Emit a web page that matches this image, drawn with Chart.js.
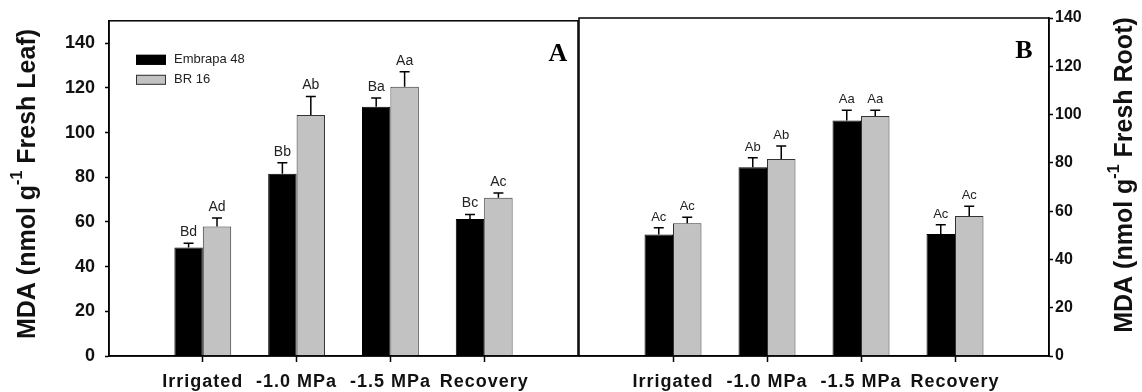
<!DOCTYPE html>
<html>
<head>
<meta charset="utf-8">
<script src="https://cdn.jsdelivr.net/npm/chart.js@4.4.1/dist/chart.umd.min.js"></script>
<style>
  body{margin:0;background:#fff;}
  #wrap{position:relative;width:1142px;height:392px;background:#fff;}
  .panel{position:absolute;top:0;height:392px;}
  #pa{left:0;width:580px;}
  #pb{left:576px;width:566px;}
</style>
</head>
<body>
<div id="wrap">
  <div class="panel" id="pa"><canvas id="chart_leaf"></canvas></div>
  <div class="panel" id="pb"><canvas id="chart_root"></canvas></div>
</div>
<script>
const categories = ['Irrigated', '-1.0 MPa', '-1.5 MPa', 'Recovery'];
const yTicks = [0, 20, 40, 60, 80, 100, 120, 140];

// A - leaf
const leafEmbrapa = [48.5, 81.5, 111.5, 61.3];
const leafEmbrapaErr = [2, 5, 4, 2];
const leafEmbrapaSig = ['Bd', 'Bb', 'Ba', 'Bc'];
const leafBR = [58, 107.8, 120.5, 70.8];
const leafBRErr = [3.7, 8.3, 6.7, 2.1];
const leafBRSig = ['Ad', 'Ab', 'Aa', 'Ac'];

// B - root
const rootEmbrapa = [50.3, 78.2, 97.5, 50.5];
const rootEmbrapaErr = [2.8, 3.9, 4.3, 3.9];
const rootEmbrapaSig = ['Ac', 'Ab', 'Aa', 'Ac'];
const rootBR = [55, 81.6, 99.4, 58];
const rootBRErr = [2.5, 5.4, 2.4, 4];
const rootBRSig = ['Ac', 'Ab', 'Aa', 'Ac'];

const font = 'Arial, "Liberation Sans", sans-serif';
// empty slot on each side so the groups sit at 1..4 of a 0..5 axis
const pad = a => [null, ...a, null];
const xLabels = pad(categories).map(v => v || '');

function makeDatasets(emb, embErr, embSig, br, brErr, brSig) {
  return [
    {label: 'Embrapa 48', data: pad(emb), err: pad(embErr), sig: pad(embSig),
     backgroundColor: '#000', borderColor: '#000', borderWidth: 1},
    {label: 'BR 16', data: pad(br), err: pad(brErr), sig: pad(brSig),
     backgroundColor: '#c2c2c2', borderColor: '#333', borderWidth: 1}
  ];
}

function drawTitle(ctx, x, yc, size, main, sup, rest) {
  ctx.save();
  ctx.translate(x, yc);
  ctx.rotate(-Math.PI / 2);
  ctx.fillStyle = '#111';
  ctx.textBaseline = 'middle';
  ctx.textAlign = 'left';
  const big = 'bold ' + size + 'px ' + font;
  const small = 'bold ' + Math.round(size * 0.65) + 'px ' + font;
  ctx.font = big;
  const w1 = ctx.measureText(main).width, w3 = ctx.measureText(rest).width;
  ctx.font = small;
  const w2 = ctx.measureText(sup).width;
  let sx = -(w1 + w2 + w3) / 2;
  ctx.font = big; ctx.fillText(main, sx, 0); sx += w1;
  ctx.font = small; ctx.fillText(sup, sx, -size * 0.4); sx += w2;
  ctx.font = big; ctx.fillText(rest, sx, 0);
  ctx.restore();
}

function panelPlugin(o) {
  return {
    id: 'panel' + o.letter,
    afterDatasetsDraw(chart) {
      const ctx = chart.ctx, area = chart.chartArea, y = chart.scales.y;
      ctx.save();
      chart.data.datasets.forEach((ds, di) => {
        chart.getDatasetMeta(di).data.forEach((bar, i) => {
          const v = ds.data[i];
          if (v == null) return;
          const top = y.getPixelForValue(v + ds.err[i]);
          ctx.strokeStyle = '#000';
          ctx.lineWidth = 1.5;
          ctx.beginPath();
          ctx.moveTo(bar.x, bar.y); ctx.lineTo(bar.x, top);
          ctx.moveTo(bar.x - 5, top); ctx.lineTo(bar.x + 5, top);
          ctx.stroke();
          ctx.fillStyle = '#222';
          ctx.font = o.sigSize + 'px ' + font;
          ctx.textAlign = 'center';
          ctx.textBaseline = 'bottom';
          ctx.fillText(ds.sig[i], bar.x, top - 4);
        });
      });
      // frame
      ctx.strokeStyle = '#000';
      ctx.lineWidth = 1.5;
      ctx.strokeRect(area.left, area.top, area.right - area.left, area.bottom - area.top);
      // panel letter
      ctx.fillStyle = '#000';
      ctx.font = 'bold 26px "Times New Roman", "Liberation Serif", serif';
      ctx.textAlign = 'center';
      ctx.textBaseline = 'alphabetic';
      ctx.fillText(o.letter, area.right - o.letterDx, area.top + 40);
      // legend
      if (o.legend) {
        let ly = area.top + 34;
        chart.data.datasets.forEach(ds => {
          ctx.fillStyle = ds.backgroundColor;
          ctx.fillRect(area.left + 27, ly, 30, 10);
          ctx.strokeStyle = ds.borderColor;
          ctx.lineWidth = 1;
          ctx.strokeRect(area.left + 27.5, ly + 0.5, 29, 9);
          ctx.fillStyle = '#222';
          ctx.font = '13px ' + font;
          ctx.textAlign = 'left';
          ctx.textBaseline = 'middle';
          ctx.fillText(ds.label, area.left + 65, ly + 5);
          ly += 20;
        });
      }
      drawTitle(ctx, o.titleX, o.titleY, 25, 'MDA (nmol g', '-1', o.titleRest);
      ctx.restore();
      // the x tick labels (z = 1) are drawn after this, spaced out a little
      ctx.letterSpacing = '1px';
    },
    afterDraw(chart) {
      chart.ctx.letterSpacing = '0px';
    }
  };
}

function makeOptions(yMax, yPos, yWidth, tickSize, tickPad, layoutPad) {
  return {
    responsive: true,
    maintainAspectRatio: false,
    animation: false,
    layout: {padding: layoutPad},
    plugins: {legend: {display: false}, tooltip: {enabled: false}},
    datasets: {bar: {categoryPercentage: 0.606, barPercentage: 1}},
    scales: {
      x: {
        type: 'category',
        offset: false,
        afterFit: s => { s.height = 36; s.paddingLeft = 0; s.paddingRight = 0; },
        border: {color: '#000', width: 1.5},
        grid: {
          offset: false, drawOnChartArea: false, tickLength: 6, tickWidth: 1.5,
          tickColor: c => (c.index === 0 || c.index === xLabels.length - 1) ? 'rgba(0,0,0,0)' : '#000'
        },
        ticks: {z: 1, color: '#111', padding: 9, maxRotation: 0, autoSkip: false,
                font: {family: font, size: 18, weight: 'bold'}}
      },
      y: {
        position: yPos,
        min: 0, max: yMax,
        afterBuildTicks: s => { s.ticks = yTicks.map(v => ({value: v})); },
        afterFit: s => { s.width = yWidth; },
        border: {color: '#000', width: 1.5},
        grid: {drawOnChartArea: false, tickLength: 4, tickWidth: 1.5, tickColor: '#000'},
        ticks: {color: '#111', padding: tickPad,
                font: {family: font, size: tickSize, weight: 'bold'}}
      }
    }
  };
}

new Chart(document.getElementById('chart_leaf'), {
  type: 'bar',
  data: {labels: xLabels,
         datasets: makeDatasets(leafEmbrapa, leafEmbrapaErr, leafEmbrapaSig, leafBR, leafBRErr, leafBRSig)},
  options: makeOptions(150, 'left', 109, 18, 10, {top: 19, right: 2, left: 0, bottom: 0}),
  plugins: [panelPlugin({letter: 'A', letterDx: 20, sigSize: 14, legend: true,
                         titleX: 28, titleY: 184, titleRest: ' Fresh Leaf)'})]
});

new Chart(document.getElementById('chart_root'), {
  type: 'bar',
  data: {labels: xLabels,
         datasets: makeDatasets(rootEmbrapa, rootEmbrapaErr, rootEmbrapaSig, rootBR, rootBRErr, rootBRSig)},
  options: makeOptions(140, 'right', 93, 16, 2, {top: 18, right: 0, left: 3, bottom: 0}),
  plugins: [panelPlugin({letter: 'B', letterDx: 25, sigSize: 13, legend: false,
                         titleX: 549, titleY: 175, titleRest: ' Fresh Root)'})]
});
</script>
</body>
</html>
